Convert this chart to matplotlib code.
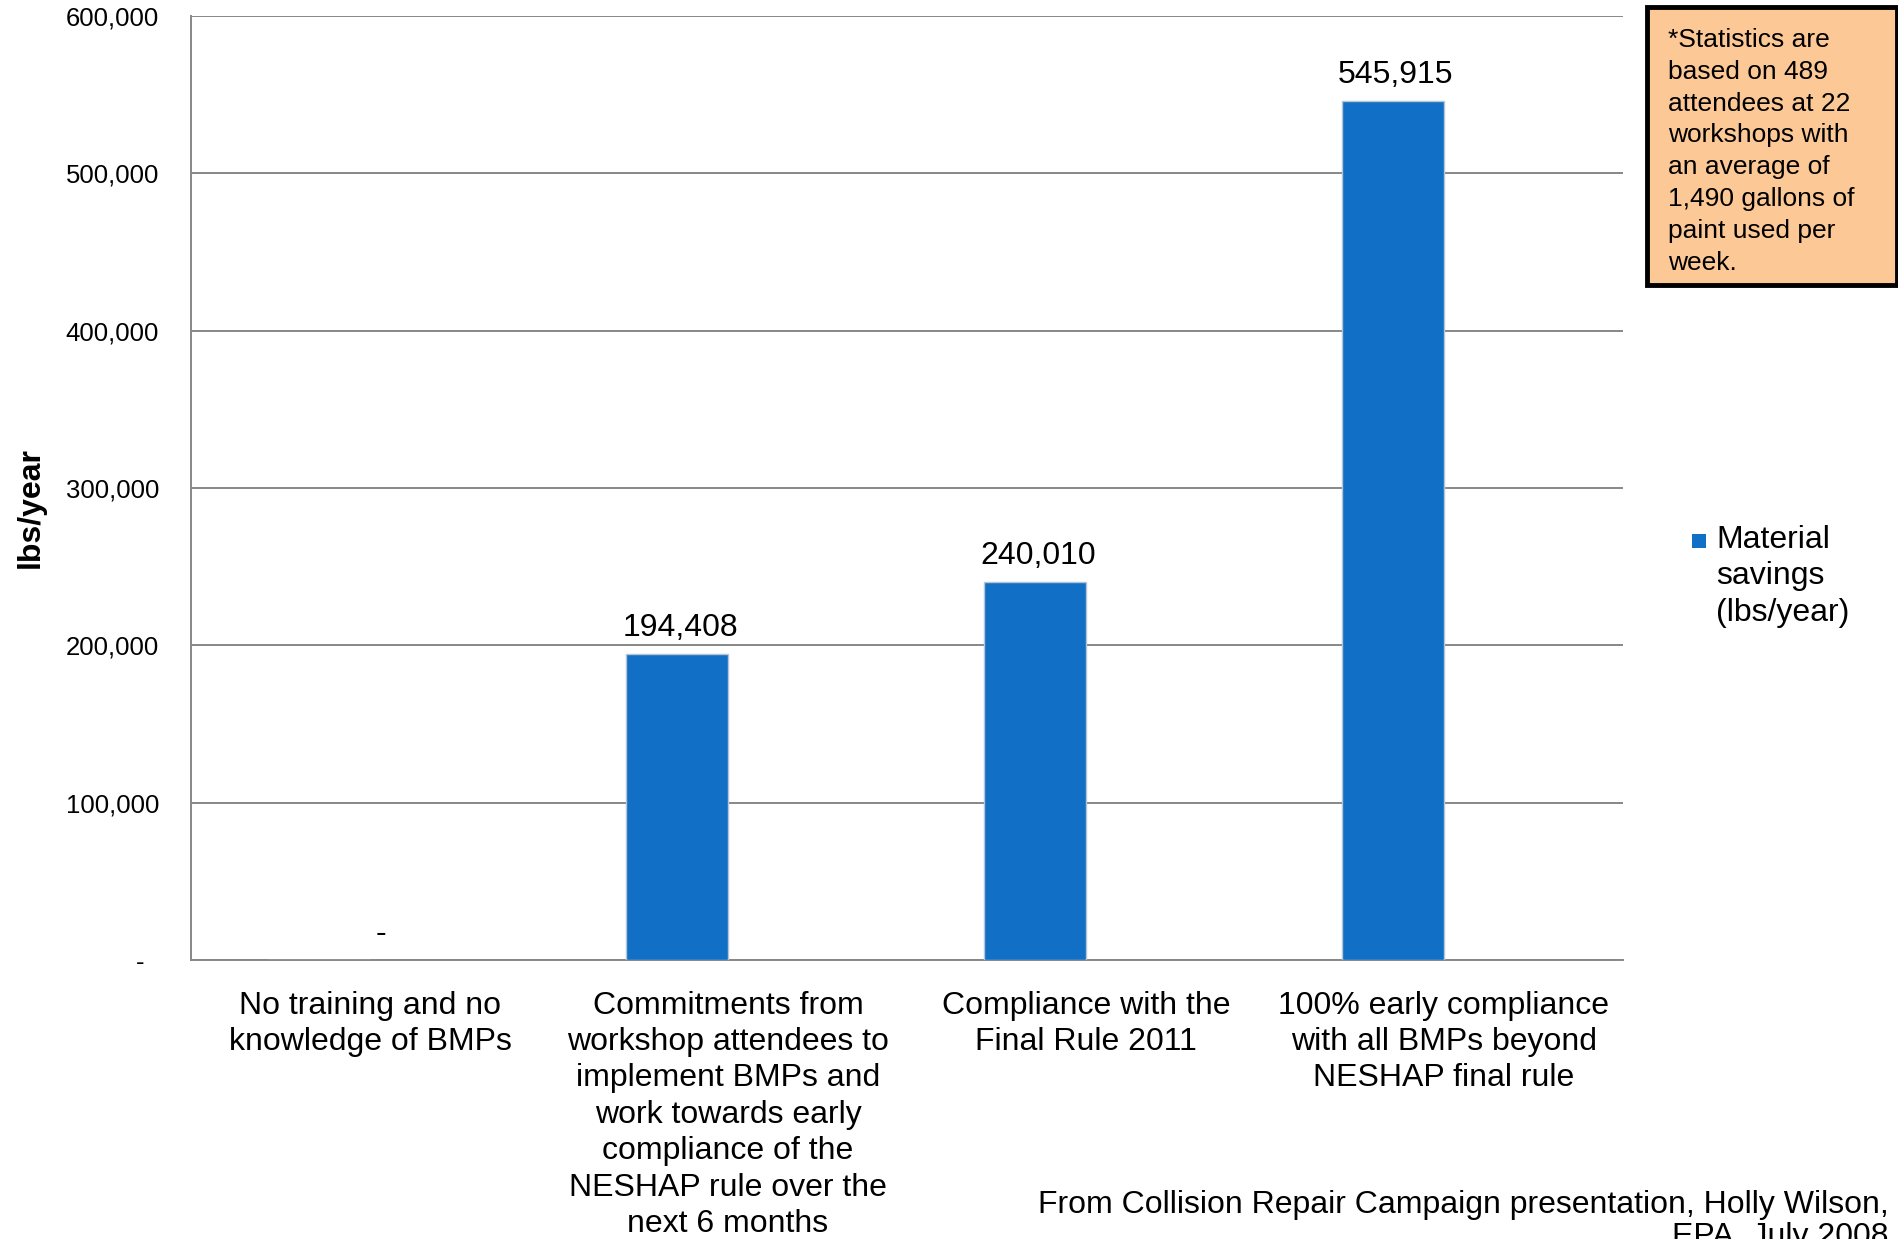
import numpy as np
import matplotlib
matplotlib.use('Agg')
import matplotlib.pyplot as plt
from matplotlib.patches import Rectangle
from matplotlib.container import BarContainer
from matplotlib.legend_handler import HandlerPatch

plt.rcParams['font.family'] = ['Liberation Sans', 'DejaVu Sans']

# data
categories = ['No training and no\nknowledge of BMPs',
              'Commitments from\nworkshop attendees to\nimplement BMPs and\nwork towards early\ncompliance of the\nNESHAP rule over the\nnext 6 months',
              'Compliance with the\nFinal Rule 2011',
              '100% early compliance\nwith all BMPs beyond\nNESHAP final rule']
savings = [0, 194408, 240010, 545915]
series_name = 'Material\nsavings\n(lbs/year)'
yticks = [0, 100000, 200000, 300000, 400000, 500000, 600000]
ytick_labels = ['-  ', '100,000', '200,000', '300,000', '400,000', '500,000', '600,000']
note = ('*Statistics are\nbased on 489\nattendees at 22\nworkshops with\nan average of\n'
        '1,490 gallons of\npaint used per\nweek.')
source = 'From Collision Repair Campaign presentation, Holly Wilson,\nEPA, July 2008'

bar_color = '#1170c6'
grid_color = '#878787'

W, H = 1899, 1239
fig = plt.figure(figsize=(W / 100, H / 100), dpi=100)
ax = fig.add_axes([191 / W, 1 - 960 / H, (1623 - 191) / W, (960 - 16) / H])

x = np.arange(len(categories))
bw = 0.284
bars = ax.bar(x - bw / 2, savings, width=bw, color=bar_color,
              edgecolor='#b5c4d6', linewidth=1.0, zorder=3, label=series_name)

for i, v in enumerate(savings):
    if v == 0:
        ax.annotate('-', xy=(x[i], v), xytext=(8, 8), textcoords='offset points',
                    ha='center', va='bottom', fontsize=23)
    else:
        ax.annotate(f'{v:,}', xy=(x[i] - bw / 2, v), xytext=(2, 8), textcoords='offset points',
                    ha='center', va='bottom', fontsize=23)

ax.set_xlim(-0.5, 3.5)
ax.set_ylim(0, 600000)
ax.set_yticks(yticks)
ax.set_yticklabels(ytick_labels, fontsize=18.5)
ax.set_xticks(x)
ax.set_xticklabels(categories, fontsize=23, linespacing=1.28)
ax.tick_params(axis='both', length=0)
ax.tick_params(axis='y', pad=23)
ax.tick_params(axis='x', pad=22)

ax.yaxis.grid(True, color=grid_color, linewidth=1.4, zorder=0)
ax.set_axisbelow(True)
for s in ['top', 'right']:
    ax.spines[s].set_visible(False)
for s in ['left', 'bottom']:
    ax.spines[s].set_color(grid_color)
    ax.spines[s].set_linewidth(1.4)

ax.set_ylabel('lbs/year', fontsize=23, fontweight='bold')
ax.yaxis.set_label_coords(-145 / (1623 - 191), 0.479)


# small square next to the first line of the label
def square_patch(legend, orig_handle, xdescent, ydescent, width, height, fontsize):
    s = 10
    return Rectangle((-xdescent, -ydescent + height - 16.5), s, s)


def from_first_bar(tgt, src):
    tgt.update_from(src.patches[0])
    tgt.set_edgecolor('none')


leg = ax.legend(loc='upper left', bbox_to_anchor=(1692 / W, 1 - 525 / H),
                bbox_transform=fig.transFigure, frameon=False, fontsize=23,
                handlelength=0.45, handleheight=1.0, handletextpad=0.3,
                borderpad=0, borderaxespad=0, labelspacing=0,
                handler_map={BarContainer: HandlerPatch(patch_func=square_patch,
                                                        update_func=from_first_bar)})
for t in leg.get_texts():
    t.set_linespacing(1.28)
for col in leg._legend_handle_box.get_children():
    for item in col.get_children():
        item.align = 'top'

# note box
fig.patches.append(Rectangle((1647 / W, 1 - 285 / H), 250 / W, 278 / H,
                             transform=fig.transFigure, facecolor='#fcc896',
                             edgecolor='black', linewidth=3.5, zorder=1))
fig.text(1668 / W, 1 - 28 / H, note, ha='left', va='top', fontsize=19,
         linespacing=1.41, zorder=2)

fig.text(1889 / W, 1 - 1190 / H, source, ha='right', va='top', fontsize=23,
         multialignment='right', linespacing=1.1)

fig.savefig('out.png', dpi=100)
